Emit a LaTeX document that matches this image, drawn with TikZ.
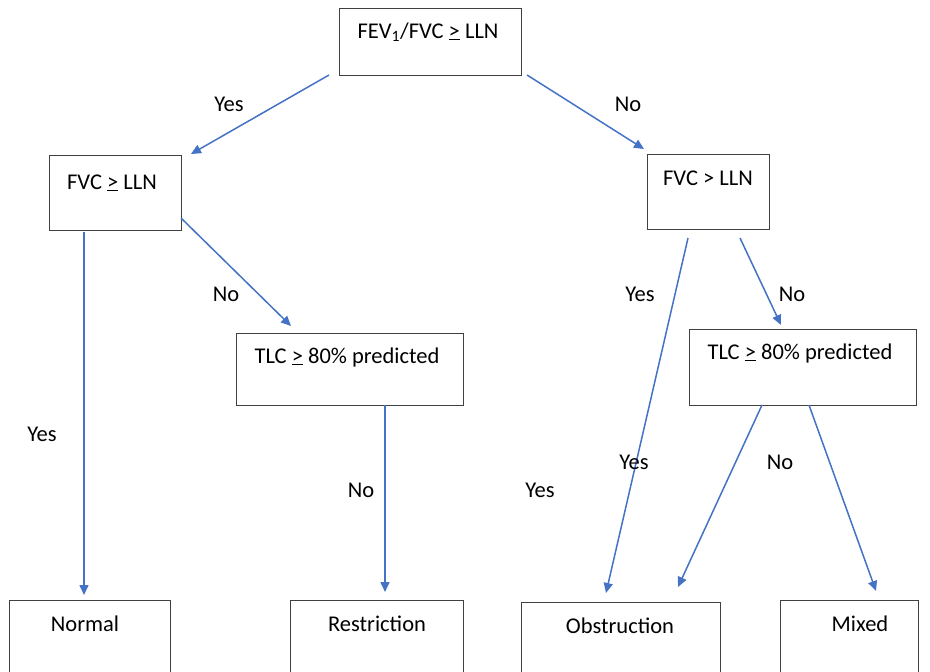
\documentclass[tikz,border=0pt]{standalone}
\usepackage{fontspec}
\setmainfont{Carlito}
\usetikzlibrary{arrows.meta}
\definecolor{arrowblue}{RGB}{68,114,196}
\definecolor{boxgray}{RGB}{64,64,64}
\begin{document}
\begin{tikzpicture}[x=1pt,y=-1pt,
  box/.style={draw=boxgray,line width=1.1pt,anchor=north west,inner sep=0pt},
  txt/.style={font=\fontsize{22.5}{24}\selectfont,inner sep=0pt,anchor=base},
  ans/.style={font=\fontsize{22.5}{24}\selectfont,inner sep=0pt,anchor=center},
  conn/.style={draw=arrowblue,line width=1.5pt,-{Triangle[length=10pt,width=9pt]}}]
\useasboundingbox (0,0) rectangle (930,672);
\clip (0,0) rectangle (930,672);
% boxes
\node[box,minimum width=182pt,minimum height=67pt] (top) at (339,8) {};
\node[box,minimum width=132pt,minimum height=75pt] (fvcl) at (49,155) {};
\node[box,minimum width=122pt,minimum height=75pt] (fvcr) at (647,154) {};
\node[box,minimum width=227pt,minimum height=72pt] (tlcl) at (236,333) {};
\node[box,minimum width=227pt,minimum height=76pt] (tlcr) at (689,329) {};
\node[box,minimum width=161pt,minimum height=90pt] (normal) at (9,600) {};
\node[box,minimum width=173pt,minimum height=90pt] (restr) at (290,600) {};
\node[box,minimum width=199pt,minimum height=90pt] (obstr) at (521,602) {};
\node[box,minimum width=138pt,minimum height=90pt] (mixed) at (780,600) {};
% texts
\node[txt] (topt) at (428,38) {FEV\textsubscript{1}/FVC \underline{>} LLN};
\node[txt] (fvclt) at (112,189) {FVC \underline{>} LLN};
\node[txt] (fvcrt) at (708,185) {FVC > LLN};
\node[txt] (tlclt) at (347,363) {TLC \underline{>} 80\% predicted};
\node[txt] (tlcrt) at (800,359) {TLC \underline{>} 80\% predicted};
\node[txt] (normalt) at (85,631) {Normal};
\node[txt] (restrt) at (377,631) {Restriction};
\node[txt] (obstrt) at (620,633) {Obstruction};
\node[txt] (mixedt) at (860,631) {Mixed};
% connector end points
\coordinate (a1) at (329,75);  \coordinate (b1) at (191,154);
\coordinate (a2) at (527,75);  \coordinate (b2) at (644,149);
\coordinate (a3) at (84,232);  \coordinate (b3) at (84,595);
\coordinate (a4) at (181,218); \coordinate (b4) at (291,326);
\coordinate (a5) at (385,405); \coordinate (b5) at (385,592);
\coordinate (a6) at (688,238); \coordinate (b6) at (606,593);
\coordinate (a7) at (740,238); \coordinate (b7) at (781,325);
\coordinate (a8) at (762,405); \coordinate (b8) at (678,587);
\coordinate (a9) at (809,405); \coordinate (b9) at (876,591);
\draw[conn] (a1) -- (b1);
\draw[conn] (a2) -- (b2);
\draw[conn] (a3) -- (b3);
\draw[conn] (a4) -- (b4);
\draw[conn] (a5) -- (b5);
\draw[conn] (a6) -- (b6);
\draw[conn] (a7) -- (b7);
\draw[conn] (a8) -- (b8);
\draw[conn] (a9) -- (b9);
% answer labels
\node[ans] (l1) at (229,104) {Yes};
\node[ans] (l2) at (628,104) {No};
\node[ans] (l3) at (42,434) {Yes};
\node[ans] (l4) at (226,294) {No};
\node[ans] (l5) at (361,490) {No};
\node[ans] (l6) at (640,294) {Yes};
\node[ans] (l7) at (792,294) {No};
\node[ans] (l8) at (634,462) {Yes};
\node[ans] (l9) at (780,462) {No};
\node[ans] (l10) at (540,490) {Yes};
\end{tikzpicture}
\end{document}
